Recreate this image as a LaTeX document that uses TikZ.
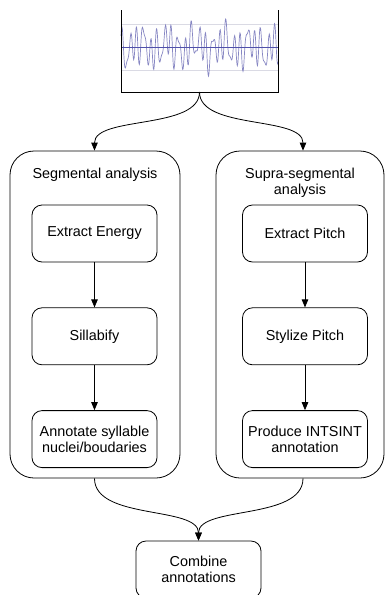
\documentclass[tikz,border=0pt]{standalone}
\usepackage{fontspec}
\setmainfont{Liberation Sans}
\usetikzlibrary{positioning,arrows.meta}
\definecolor{wavecol}{RGB}{135,135,195}
\definecolor{axiscol}{RGB}{80,80,170}
\definecolor{gridcol}{RGB}{218,218,228}

\begin{document}
\begin{tikzpicture}[
  x=1pt, y=-1pt,
  line width=0.8pt,
  task/.style={rectangle, draw, rounded corners=10pt, minimum width=125pt, minimum height=57pt, align=center, inner sep=2pt},
  stage/.style={rectangle, draw, rounded corners=24pt, minimum height=327pt},
  title/.style={anchor=north, inner sep=0pt, align=center},
  flow/.style={-{Triangle[length=8pt,width=6.5pt]}, line width=0.8pt},
  font=\fontsize{14.4}{16}\selectfont
]
\useasboundingbox (0,0) rectangle (385,595);

\draw[gridcol, line width=0.6pt] (121,24) -- (278,24);
\draw[gridcol, line width=0.6pt] (121,70) -- (278,70);
\draw[wavecol, line width=0.7pt] plot[domain=0:157, samples=360, smooth]
  ({121+\x}, {47 - 30*(0.4*sin(52*\x) + 0.3*sin(73*\x+40) + 0.25*sin(31*\x+100) + 0.2*sin(13*\x+200))});
\draw[axiscol, line width=0.6pt] (121,47) -- (278,47);
\draw (121,10) -- (121,92) -- (278,92) -- (278,10);
\coordinate (signal) at (199.5,92);

\node[stage, minimum width=170pt] (seg) at (95,314.5) {};
\node[stage, minimum width=168pt] (supra) at (300,314.5) {};
\node[title] (segtitle) at ([yshift=-17pt]seg.north) {Segmental analysis};
\node[title] (supratitle) at ([yshift=-17pt]supra.north) {Supra-segmental\\analysis};

\node[task] (energy) at (94.5,233.5) {Extract Energy};
\node[task, below=45pt of energy] (syll) {Sillabify};
\node[task, below=45pt of syll] (nuclei) {Annotate syllable\\nuclei/boudaries};

\node[task] (pitch) at (305,233.5) {Extract Pitch};
\node[task, below=45pt of pitch] (stylize) {Stylize Pitch};
\node[task, below=45pt of stylize] (intsint) {Produce INTSINT\\annotation};

\node[task] (combine) at (198.5,569.5) {Combine\\annotations};

\draw[flow] (signal) .. controls +(0,38) and +(0,-35) .. (energy |- seg.north);
\draw[flow] (signal) .. controls +(0,38) and +(0,-35) .. ([xshift=-2pt]pitch |- supra.north);
\draw[flow] (energy) -- (syll);
\draw[flow] (syll) -- (nuclei);
\draw[flow] (pitch) -- (stylize);
\draw[flow] (stylize) -- (intsint);
\draw[flow] (energy |- seg.south) .. controls +(0,42) and +(0,-35) .. (combine.north);
\draw[flow] ([xshift=-2pt]pitch |- supra.south) .. controls +(0,42) and +(0,-35) .. (combine.north);
\end{tikzpicture}
\end{document}
